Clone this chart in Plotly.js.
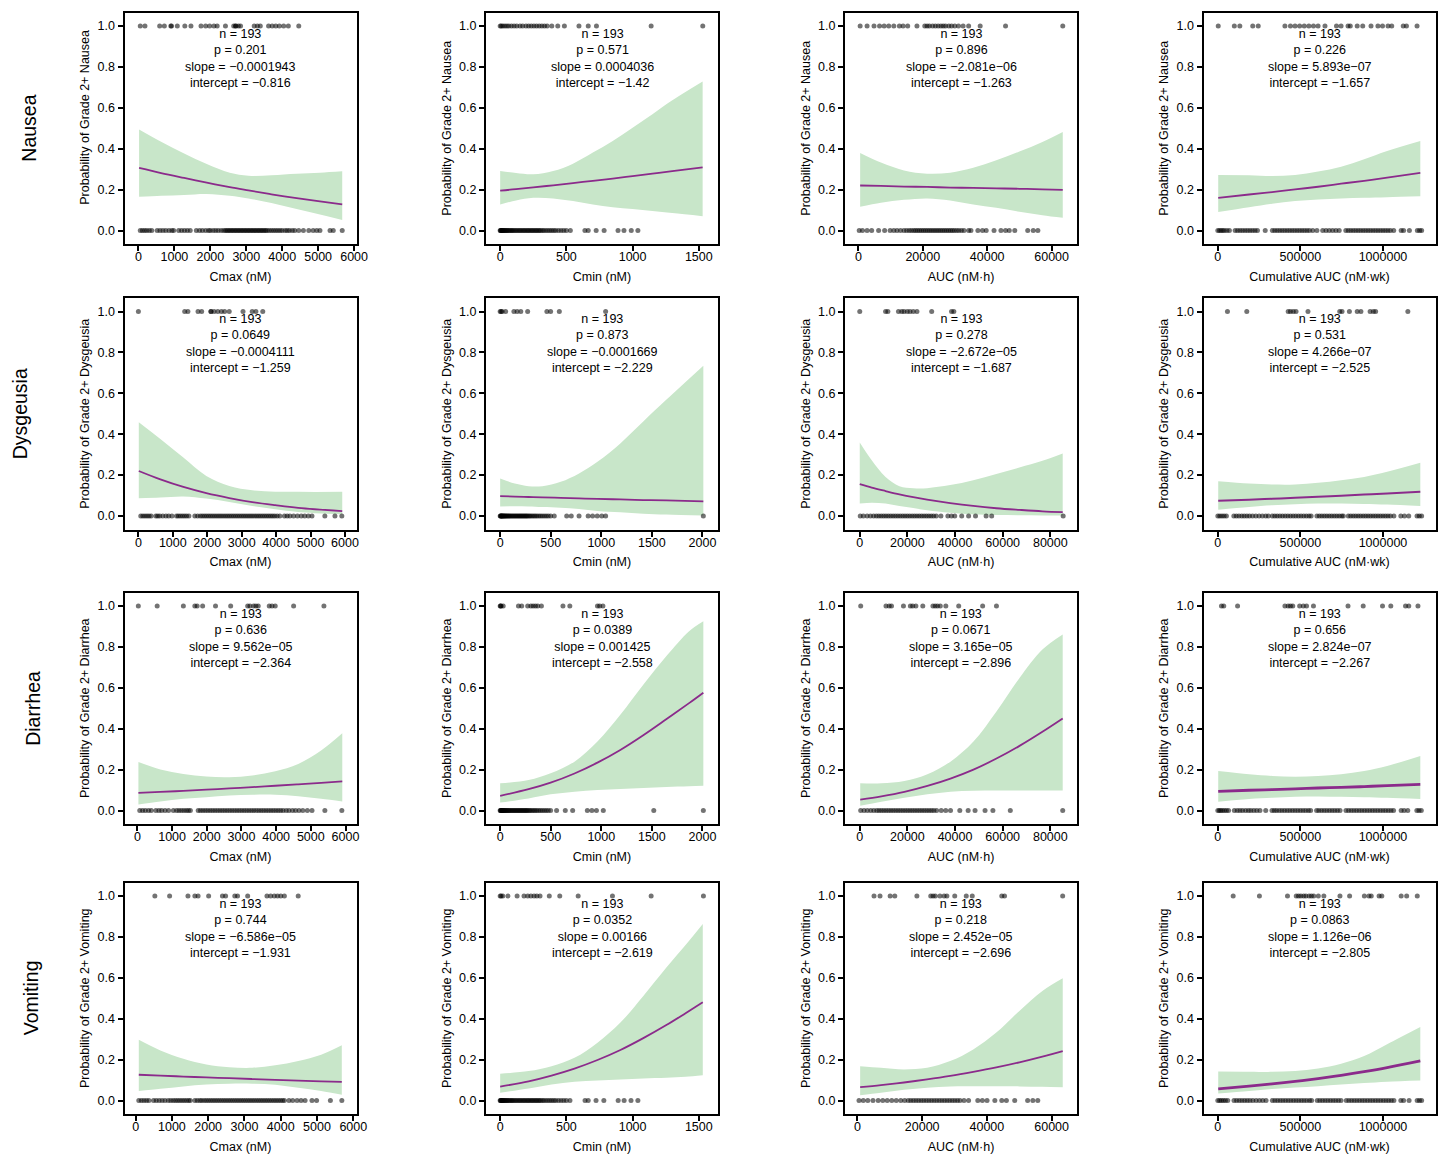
<!DOCTYPE html>
<html><head><meta charset="utf-8">
<script src="https://cdn.plot.ly/plotly-3.0.1.min.js"></script>
<style>html,body{margin:0;padding:0;background:#fff;}#chart{width:1445px;height:1154px;}</style>
</head><body><div id="chart"></div>
<script>
// ---------- categories and labels ----------
const rowNames = ['Nausea', 'Dysgeusia', 'Diarrhea', 'Vomiting'];
const xTitles = ['Cmax (nM)', 'Cmin (nM)', 'AUC (nM·h)', 'Cumulative AUC (nM·wk)'];
const nText = ['193','193','193','193','193','193','193','193','193','193','193','193','193','193','193','193'];
const pText = ['0.201','0.571','0.896','0.226','0.0649','0.873','0.278','0.531','0.636','0.0389','0.0671','0.656','0.744','0.0352','0.218','0.0863'];
const slopeText = ['−0.0001943','0.0004036','−2.081e−06','5.893e−07','−0.0004111','−0.0001669','−2.672e−05','4.266e−07','9.562e−05','0.001425','3.165e−05','2.824e−07','−6.586e−05','0.00166','2.452e−05','1.126e−06'];
const interceptText = ['−0.816','−1.42','−1.263','−1.657','−1.259','−2.229','−1.687','−2.525','−2.364','−2.558','−2.896','−2.267','−1.931','−2.619','−2.696','−2.805'];

// tick label sets
const cmaxTicks = [0, 1000, 2000, 3000, 4000, 5000, 6000];
const cminTicksA = [0, 500, 1000, 1500];
const cminTicksB = [0, 500, 1000, 1500, 2000];
const aucTicksA = [0, 20000, 40000, 60000];
const aucTicksB = [0, 20000, 40000, 60000, 80000];
const cumTicks = [0, 500000, 1000000];
const probTicks = [0, 0.2, 0.4, 0.6, 0.8, 1.0];

// ---------- Nausea ----------
const nausea_cmax_yes = [50,180,590,720,900,920,1080,1290,1460,1740,1870,1980,2100,2190,2420,2650,2700,2710,2780,2840,3220,3310,3390,3620,3720,3820,3920,4040,4170,4460];
const nausea_cmax_no = [50,110,170,230,300,370,520,600,680,760,850,930,980,1120,1200,1280,1360,1440,1610,1700,1780,1870,1950,2000,2080,2150,2220,2300,2370,2420,2460,2500,2540,2580,2620,2660,2700,2740,2780,2820,2860,2900,2940,2980,3020,3060,3100,3140,3180,3220,3260,3300,3340,3380,3420,3460,3500,3540,3580,3640,3700,3760,3820,3880,3940,4000,4080,4140,4200,4280,4350,4460,4590,4740,4860,4960,5050,5330,5420,5670];
const nausea_cmax_bx = [17,630,1270,1900,2540,3060,3700,4400,5050,5670];
const nausea_cmax_lo = [0.165,0.170,0.174,0.179,0.170,0.157,0.135,0.105,0.078,0.051];
const nausea_cmax_hi = [0.494,0.434,0.377,0.325,0.282,0.268,0.270,0.277,0.283,0.290];
const nausea_cmax_fit = [0.306,0.281,0.257,0.234,0.212,0.196,0.177,0.158,0.142,0.128];

const nausea_cmin_yes = [0,8,20,35,50,65,85,105,125,150,170,195,215,235,255,275,295,315,335,355,390,435,485,595,665,727,1140,1530];
const nausea_cmin_no = [0,3,6,10,14,18,22,27,32,38,44,50,57,64,72,80,88,96,105,115,125,135,145,155,165,175,185,195,205,215,225,235,245,255,265,275,285,295,305,318,330,345,360,375,390,405,420,440,460,480,500,530,640,665,725,785,890,935,990,1040];
const nausea_cmin_bx = [0,120,250,400,550,700,850,1000,1150,1300,1529];
const nausea_cmin_lo = [0.127,0.147,0.160,0.157,0.144,0.127,0.114,0.105,0.095,0.085,0.070];
const nausea_cmin_hi = [0.291,0.281,0.275,0.291,0.327,0.381,0.438,0.503,0.569,0.637,0.729];
const nausea_cmin_fit = [0.195,0.202,0.211,0.221,0.232,0.243,0.254,0.266,0.278,0.290,0.309];

const nausea_auc_yes = [560,2710,4860,6580,8010,9440,11020,12740,13890,15320,18190,20620,21340,22060,23060,23920,24780,25640,26350,27070,28080,28940,29940,31090,32520,34240,37820,45700,63460];
const nausea_auc_no = [270,1270,2710,4140,6290,8160,9870,11000,12020,13100,14170,15000,15800,16500,17200,17800,18400,19000,19600,20200,20800,21400,22000,22600,23200,23800,24400,25000,25600,26200,26800,27400,28000,28600,29200,29800,30500,31200,32000,32800,34240,34960,37110,38540,39690,42120,44270,45700,46850,48570,52580,54300,55730];
const nausea_auc_bx = [560,7010,14170,21340,28500,35670,42830,50000,57140,63460];
const nausea_auc_lo = [0.116,0.136,0.150,0.157,0.147,0.127,0.111,0.092,0.075,0.062];
const nausea_auc_hi = [0.379,0.332,0.294,0.278,0.283,0.307,0.343,0.386,0.433,0.482];
const nausea_auc_fit = [0.220,0.218,0.215,0.213,0.210,0.208,0.206,0.204,0.201,0.199];

const nausea_cum_yes = [2400,99900,133300,211300,244700,406300,439700,467600,495400,523300,551200,579000,607000,648800,718500,746400,788200,802100,843900,877400,927500,969300,997200,1030600,1052900,1122600,1142100,1206200];
const nausea_cum_no = [0,10000,20000,30000,40000,55000,70000,105000,120000,135000,150000,165000,180000,195000,210000,225000,240000,287000,330000,345000,360000,375000,390000,405000,420000,435000,450000,465000,480000,495000,510000,525000,540000,555000,575000,600000,635000,655000,675000,695000,715000,735000,775000,790000,805000,820000,835000,850000,865000,880000,895000,910000,925000,940000,955000,970000,985000,1000000,1015000,1030000,1045000,1065000,1110000,1125000,1160000,1208000,1222000,1234000];
const nausea_cum_bx = [2400,189200,328500,468000,607000,746600,886000,1025000,1226000];
const nausea_cum_lo = [0.090,0.114,0.131,0.144,0.152,0.157,0.160,0.163,0.168];
const nausea_cum_hi = [0.271,0.270,0.266,0.271,0.288,0.312,0.348,0.389,0.438];
const nausea_cum_fit = [0.160,0.176,0.188,0.201,0.214,0.229,0.243,0.259,0.282];

// ---------- Dysgeusia ----------
const dysgeusia_cmax_yes = [0,1345,1438,1732,1838,2105,2110,2198,2305,2412,2505,2638,3038,3305,3412,3612];
const dysgeusia_cmax_no = [69,130,190,250,310,371,507,560,620,707,800,880,974,1107,1160,1220,1280,1340,1400,1467,1640,1720,1800,1860,1920,1980,2040,2100,2160,2220,2280,2340,2400,2460,2520,2580,2640,2700,2760,2820,2880,2940,3000,3060,3120,3180,3240,3300,3360,3420,3480,3540,3600,3660,3720,3780,3840,3900,3960,4030,4108,4241,4320,4401,4508,4620,4730,4830,4935,5041,5415,5708,5908];
const dysgeusia_cmax_bx = [12,639,1306,1973,2640,3307,3974,4641,5920];
const dysgeusia_cmax_lo = [0.087,0.090,0.095,0.085,0.069,0.049,0.033,0.020,0.008];
const dysgeusia_cmax_hi = [0.458,0.376,0.286,0.196,0.147,0.126,0.119,0.118,0.118];
const dysgeusia_cmax_fit = [0.220,0.179,0.142,0.112,0.088,0.068,0.053,0.040,0.024];

const dysgeusia_cmin_yes = [0,9,20,54,136,168,204,272,462,499,585,1043];
const dysgeusia_cmin_no = [0,4,8,12,16,20,25,30,36,42,48,55,62,70,78,86,95,105,115,125,135,145,155,165,175,185,195,205,215,225,235,245,255,265,275,288,300,315,330,345,360,378,396,415,435,455,475,499,535,658,703,780,870,914,960,1005,1043,2009];
const dysgeusia_cmin_bx = [0,145,281,417,599,780,962,1188,1415,1642,2009];
const dysgeusia_cmin_lo = [0.047,0.048,0.047,0.044,0.040,0.034,0.025,0.018,0.011,0.007,0.002];
const dysgeusia_cmin_hi = [0.183,0.159,0.146,0.146,0.167,0.208,0.265,0.355,0.462,0.568,0.735];
const dysgeusia_cmin_fit = [0.097,0.095,0.093,0.091,0.089,0.086,0.084,0.081,0.078,0.076,0.072];

const dysgeusia_auc_yes = [0,10840,11800,16260,17620,18580,19940,21100,22460,24010,30200,38530,39500];
const dysgeusia_auc_no = [200,1500,3100,4500,5800,6970,8000,9000,10000,11000,12000,13000,14000,15000,16000,17000,18000,19000,20000,21000,22000,23000,24000,25000,26000,27000,28000,29000,30000,31000,32140,34080,36990,38500,39890,42800,45700,48600,53050,55380,85400];
const dysgeusia_auc_bx = [0,5030,10840,16650,22460,28270,37960,47640,57330,67010,76690,85200];
const dysgeusia_auc_lo = [0.061,0.065,0.061,0.049,0.039,0.028,0.016,0.008,0.005,0.004,0.003,0.003];
const dysgeusia_auc_hi = [0.360,0.273,0.191,0.146,0.136,0.136,0.151,0.175,0.205,0.237,0.270,0.306];
const dysgeusia_auc_fit = [0.156,0.139,0.122,0.106,0.092,0.080,0.063,0.049,0.038,0.030,0.023,0.019];

const dysgeusia_cum_yes = [58300,175300,426100,440000,456700,473500,545900,738200,752100,796700,844100,866400,922100,941600,955500,1150600];
const dysgeusia_cum_no = [0,12000,25000,38000,52000,97000,112000,128000,145000,160000,176000,192000,210000,230000,250000,270000,290000,306000,330000,345000,360000,376000,392000,408000,424000,440000,456000,472000,488000,504000,520000,536000,552000,565000,600000,615000,630000,645000,660000,675000,690000,705000,720000,735000,750000,760000,790000,805000,820000,835000,850000,865000,880000,895000,910000,925000,940000,955000,970000,985000,1000000,1015000,1030000,1045000,1066000,1108000,1130000,1156000,1206000,1220000,1234000];
const dysgeusia_cum_bx = [2400,189200,328500,468000,607000,746600,886000,1025000,1226000];
const dysgeusia_cum_lo = [0.031,0.044,0.052,0.057,0.061,0.061,0.059,0.056,0.049];
const dysgeusia_cum_hi = [0.170,0.159,0.154,0.154,0.162,0.175,0.191,0.216,0.260];
const dysgeusia_cum_fit = [0.074,0.080,0.084,0.089,0.094,0.099,0.105,0.110,0.119];

// ---------- Diarrhea ----------
const diarrhea_cmax_yes = [27,570,1325,1656,1722,1881,2252,2689,3179,3245,3351,3417,3484,3801,3881,3974,4504,5378];
const diarrhea_cmax_no = [68,150,230,320,401,533,620,700,798,900,1037,1130,1200,1270,1340,1410,1470,1527,1753,1820,1890,1960,2030,2100,2170,2240,2310,2380,2450,2520,2590,2660,2730,2800,2870,2940,3010,3080,3150,3220,3290,3360,3430,3500,3570,3640,3710,3780,3850,3920,3990,4060,4130,4200,4290,4372,4470,4560,4660,4769,4900,5034,5405,5894];
const diarrhea_cmax_bx = [29,663,1325,1987,2650,3312,3975,4637,5297,5907];
const diarrhea_cmax_lo = [0.029,0.044,0.057,0.065,0.073,0.077,0.077,0.070,0.057,0.044];
const diarrhea_cmax_hi = [0.237,0.201,0.179,0.166,0.163,0.171,0.192,0.228,0.294,0.378];
const diarrhea_cmax_fit = [0.086,0.091,0.096,0.102,0.108,0.114,0.121,0.128,0.135,0.142];

const diarrhea_cmin_yes = [0,5,9,30,181,213,272,304,326,349,372,408,621,689,962,984,1016];
const diarrhea_cmin_no = [0,4,8,12,16,20,25,30,36,42,48,55,62,70,78,86,95,105,115,125,135,145,155,165,175,185,195,205,215,225,235,245,255,265,275,288,300,315,330,345,360,378,396,415,435,455,475,499,558,644,717,862,907,952,1020,1519,2009];
const diarrhea_cmin_bx = [0,281,499,735,962,1188,1415,1642,1868,2009];
const diarrhea_cmin_lo = [0.039,0.059,0.079,0.092,0.100,0.105,0.110,0.115,0.119,0.121];
const diarrhea_cmin_hi = [0.133,0.149,0.182,0.239,0.337,0.468,0.615,0.754,0.877,0.926];
const diarrhea_cmin_fit = [0.072,0.104,0.136,0.181,0.234,0.296,0.368,0.446,0.525,0.576];

const diarrhea_auc_yes = [400,11010,12360,13330,18350,21250,22220,23570,26470,30720,31690,32650,33810,36130,41540,51590,57380];
const diarrhea_auc_no = [400,1800,3200,4600,5900,7140,8100,9100,10100,11100,12100,13100,14100,15100,16100,17100,18100,19100,20100,21100,22100,23100,24100,25100,26100,27100,28100,29100,30100,31100,32260,34200,36100,38100,42000,45500,48400,52600,55900,63200,85200];
const diarrhea_auc_bx = [200,9080,18740,28400,38070,47730,57390,67060,76680,85200];
const diarrhea_auc_lo = [0.023,0.043,0.062,0.079,0.092,0.097,0.098,0.098,0.098,0.098];
const diarrhea_auc_hi = [0.133,0.133,0.144,0.177,0.239,0.337,0.484,0.648,0.787,0.861];
const diarrhea_auc_fit = [0.053,0.069,0.091,0.120,0.156,0.200,0.254,0.316,0.385,0.450];

const diarrhea_cum_yes = [22000,36000,119600,406300,425800,439700,453700,495400,517700,537300,579000,788200,880200,997200,1047400,1136500,1156100,1211800];
const diarrhea_cum_no = [0,9000,18000,28000,40000,52000,65000,100000,118000,134000,150000,168000,185000,200000,218000,236000,255000,290000,328000,342000,356000,372000,388000,404000,420000,436000,452000,468000,484000,500000,516000,532000,548000,562000,598000,612000,628000,644000,660000,676000,692000,708000,724000,740000,776000,792000,808000,824000,840000,856000,872000,888000,904000,920000,936000,952000,968000,984000,1000000,1016000,1032000,1048000,1064000,1110000,1128000,1150000,1205000,1218000,1232000];
const diarrhea_cum_bx = [2400,189200,328500,468000,607000,746600,886000,1025000,1226000];
const diarrhea_cum_lo = [0.043,0.056,0.062,0.067,0.069,0.067,0.065,0.062,0.056];
const diarrhea_cum_hi = [0.193,0.177,0.169,0.165,0.169,0.177,0.193,0.218,0.267];
const diarrhea_cum_fit = [0.094,0.099,0.102,0.106,0.110,0.113,0.117,0.122,0.128];

// ---------- Vomiting ----------
const vomiting_cmax_yes = [531,937,1443,1633,1722,2013,2393,2481,2734,2810,3089,3620,3722,3823,3911,4000,4101,4481];
const vomiting_cmax_no = [88,160,230,300,367,494,570,650,730,810,900,970,1038,1101,1160,1220,1280,1340,1400,1460,1506,1633,1700,1770,1823,1890,1950,2010,2070,2130,2190,2250,2310,2370,2430,2490,2550,2610,2670,2730,2790,2850,2910,2970,3030,3090,3150,3210,3270,3330,3390,3450,3510,3570,3630,3690,3750,3810,3870,3930,3990,4050,4101,4228,4330,4450,4560,4671,4861,4988,5368,5684];
const vomiting_cmax_bx = [88,684,1316,1950,2582,3215,3848,4482,5114,5683];
const vomiting_cmax_lo = [0.046,0.057,0.069,0.078,0.082,0.082,0.077,0.062,0.046,0.028];
const vomiting_cmax_hi = [0.297,0.245,0.204,0.176,0.163,0.160,0.172,0.193,0.224,0.270];
const vomiting_cmax_fit = [0.126,0.122,0.117,0.113,0.109,0.105,0.101,0.097,0.094,0.091];

const vomiting_cmin_yes = [0,7,20,59,128,180,208,232,256,277,301,371,450,589,848,1140,1535];
const vomiting_cmin_no = [0,3,6,10,14,18,22,27,32,38,44,50,57,64,72,80,88,96,105,115,125,135,145,155,165,175,185,195,205,215,225,235,245,255,265,275,285,295,305,318,330,345,360,375,390,405,420,440,460,480,500,527,641,665,724,783,891,936,988,1040];
const vomiting_cmin_bx = [0,215,388,561,735,908,1081,1255,1400,1530];
const vomiting_cmin_lo = [0.038,0.059,0.078,0.092,0.098,0.103,0.108,0.111,0.116,0.124];
const vomiting_cmin_hi = [0.131,0.144,0.168,0.209,0.283,0.381,0.511,0.650,0.760,0.863];
const vomiting_cmin_fit = [0.068,0.094,0.122,0.156,0.198,0.247,0.305,0.369,0.427,0.480];

const vomiting_auc_yes = [5120,6970,10100,11540,18370,22650,23360,24070,25500,26780,27640,30060,33630,35480,44600,45460,63420];
const vomiting_auc_no = [480,1800,3200,4800,6410,7830,9200,10600,12000,13400,14600,15700,16500,17300,18100,18900,19700,20500,21300,22100,22900,23700,24500,25300,26100,26900,27700,28500,29300,30100,30900,31700,32920,34340,37190,38600,40050,42460,44600,46030,48600,52590,54200,55730];
const vomiting_auc_bx = [840,7260,14390,21520,28650,35780,42910,50050,57150,63440];
const vomiting_auc_lo = [0.026,0.038,0.052,0.062,0.069,0.070,0.070,0.069,0.067,0.065];
const vomiting_auc_hi = [0.168,0.160,0.152,0.160,0.193,0.250,0.332,0.438,0.536,0.598];
const vomiting_auc_fit = [0.065,0.075,0.088,0.103,0.120,0.140,0.162,0.187,0.215,0.242];

const vomiting_cum_yes = [92900,251800,421800,474800,488700,502600,519400,533300,552800,566700,580700,608500,642000,739500,798000,887200,915000,929000,976400,993100,1110100,1143500,1207600];
const vomiting_cum_no = [0,11000,22000,34000,46000,60000,98000,114000,130000,146000,162000,178000,194000,212000,232000,252000,272000,292000,330000,346000,362000,378000,394000,410000,426000,442000,458000,474000,490000,506000,522000,538000,555000,568000,602000,618000,634000,650000,666000,682000,698000,714000,730000,746000,778000,794000,810000,826000,842000,858000,874000,890000,906000,922000,938000,954000,970000,986000,1002000,1018000,1034000,1050000,1066000,1108000,1125000,1158000,1207000,1221000,1234000];
const vomiting_cum_bx = [2400,189200,328500,468000,607000,746600,886000,1025000,1226000];
const vomiting_cum_lo = [0.034,0.046,0.056,0.063,0.070,0.078,0.085,0.092,0.098];
const vomiting_cum_hi = [0.142,0.141,0.140,0.144,0.157,0.180,0.217,0.275,0.359];
const vomiting_cum_fit = [0.057,0.070,0.081,0.093,0.107,0.123,0.141,0.161,0.194];

// ---------- assemble ----------
const panels = [
  [nausea_cmax_yes, nausea_cmax_no, nausea_cmax_bx, nausea_cmax_lo, nausea_cmax_hi, nausea_cmax_fit],
  [nausea_cmin_yes, nausea_cmin_no, nausea_cmin_bx, nausea_cmin_lo, nausea_cmin_hi, nausea_cmin_fit],
  [nausea_auc_yes, nausea_auc_no, nausea_auc_bx, nausea_auc_lo, nausea_auc_hi, nausea_auc_fit],
  [nausea_cum_yes, nausea_cum_no, nausea_cum_bx, nausea_cum_lo, nausea_cum_hi, nausea_cum_fit],
  [dysgeusia_cmax_yes, dysgeusia_cmax_no, dysgeusia_cmax_bx, dysgeusia_cmax_lo, dysgeusia_cmax_hi, dysgeusia_cmax_fit],
  [dysgeusia_cmin_yes, dysgeusia_cmin_no, dysgeusia_cmin_bx, dysgeusia_cmin_lo, dysgeusia_cmin_hi, dysgeusia_cmin_fit],
  [dysgeusia_auc_yes, dysgeusia_auc_no, dysgeusia_auc_bx, dysgeusia_auc_lo, dysgeusia_auc_hi, dysgeusia_auc_fit],
  [dysgeusia_cum_yes, dysgeusia_cum_no, dysgeusia_cum_bx, dysgeusia_cum_lo, dysgeusia_cum_hi, dysgeusia_cum_fit],
  [diarrhea_cmax_yes, diarrhea_cmax_no, diarrhea_cmax_bx, diarrhea_cmax_lo, diarrhea_cmax_hi, diarrhea_cmax_fit],
  [diarrhea_cmin_yes, diarrhea_cmin_no, diarrhea_cmin_bx, diarrhea_cmin_lo, diarrhea_cmin_hi, diarrhea_cmin_fit],
  [diarrhea_auc_yes, diarrhea_auc_no, diarrhea_auc_bx, diarrhea_auc_lo, diarrhea_auc_hi, diarrhea_auc_fit],
  [diarrhea_cum_yes, diarrhea_cum_no, diarrhea_cum_bx, diarrhea_cum_lo, diarrhea_cum_hi, diarrhea_cum_fit],
  [vomiting_cmax_yes, vomiting_cmax_no, vomiting_cmax_bx, vomiting_cmax_lo, vomiting_cmax_hi, vomiting_cmax_fit],
  [vomiting_cmin_yes, vomiting_cmin_no, vomiting_cmin_bx, vomiting_cmin_lo, vomiting_cmin_hi, vomiting_cmin_fit],
  [vomiting_auc_yes, vomiting_auc_no, vomiting_auc_bx, vomiting_auc_lo, vomiting_auc_hi, vomiting_auc_fit],
  [vomiting_cum_yes, vomiting_cum_no, vomiting_cum_bx, vomiting_cum_lo, vomiting_cum_hi, vomiting_cum_fit]
];
const panelTicks = [
  cmaxTicks, cminTicksA, aucTicksA, cumTicks,
  cmaxTicks, cminTicksB, aucTicksB, cumTicks,
  cmaxTicks, cminTicksB, aucTicksB, cumTicks,
  cmaxTicks, cminTicksA, aucTicksA, cumTicks
];
const xRanges = [
  [-389, 6067], [-107, 1645], [-4143, 67882], [-86700, 1318000],
  [-403, 6334], [-140, 2154], [-6192, 91200], [-86700, 1318000],
  [-372, 6317], [-140, 2154], [-6192, 91200], [-86700, 1318000],
  [-306, 6088], [-107, 1645], [-3845, 67845], [-86700, 1318000]
];

// ---------- layout geometry (px) ----------
const W = 1445, H = 1154;
const colLeft = [124.5, 486, 845, 1203.5];
const rowTop = [12.5, 298, 592.5, 882.5];
const panelW = 232, panelH = 231.5;
const rowLabelX = [29.4, 19.5, 33.6, 31];
const fitWidths = [1.8,1.8,1.8,1.8, 1.8,1.8,1.8,2.0, 1.8,1.8,1.8,2.8, 1.8,1.8,1.8,2.8];

const FONT = 'Liberation Sans, Arial, Helvetica, sans-serif';
const bandColor = '#c8e6c9';
const lineColor = '#8b2a8b';
const pointColor = 'rgba(0,0,0,0.55)';

const traces = [];
const layout = {
  width: W, height: H, autosize: false,
  margin: {l: 0, r: 0, t: 0, b: 0, pad: 0},
  paper_bgcolor: '#fff', plot_bgcolor: '#fff',
  showlegend: false,
  font: {family: FONT, size: 12.5, color: '#000'},
  annotations: []
};

for (let r = 0; r < 4; r++) {
  for (let c = 0; c < 4; c++) {
    const i = r * 4 + c;
    const xa = i === 0 ? 'x' : 'x' + (i + 1);
    const ya = i === 0 ? 'y' : 'y' + (i + 1);
    const xKey = i === 0 ? 'xaxis' : 'xaxis' + (i + 1);
    const yKey = i === 0 ? 'yaxis' : 'yaxis' + (i + 1);
    const [yes, no, bx, lo, hi, fit] = panels[i];

    traces.push({x: bx, y: lo, xaxis: xa, yaxis: ya, mode: 'lines', type: 'scatter',
      line: {width: 0, shape: 'spline', color: bandColor}, hoverinfo: 'skip'});
    traces.push({x: bx, y: hi, xaxis: xa, yaxis: ya, mode: 'lines', type: 'scatter',
      fill: 'tonexty', fillcolor: bandColor,
      line: {width: 0, shape: 'spline', color: bandColor}, hoverinfo: 'skip'});
    traces.push({x: yes.concat(no), y: yes.map(() => 1).concat(no.map(() => 0)),
      xaxis: xa, yaxis: ya, mode: 'markers', type: 'scatter',
      marker: {size: 5, color: pointColor, line: {width: 0}}, hoverinfo: 'skip'});
    traces.push({x: bx, y: fit, xaxis: xa, yaxis: ya, mode: 'lines', type: 'scatter',
      line: {width: fitWidths[i], shape: 'spline', color: lineColor}, hoverinfo: 'skip'});

    const x0 = colLeft[c] / W, x1 = (colLeft[c] + panelW) / W;
    const y1 = 1 - rowTop[r] / H, y0 = 1 - (rowTop[r] + panelH) / H;
    const common = {
      showline: true, mirror: true, linecolor: '#000', linewidth: 2,
      ticks: 'outside', ticklen: 5, tickwidth: 2, tickcolor: '#000',
      showgrid: false, zeroline: false, fixedrange: true,
      tickfont: {family: FONT, size: 12.5, color: '#000'}
    };
    const yTitleText = 'Probability of Grade 2+ ' + rowNames[r];
    layout[xKey] = Object.assign({}, common, {
      domain: [x0, x1], anchor: ya, range: xRanges[i],
      tickmode: 'array', tickvals: panelTicks[i], ticktext: panelTicks[i].map(v => String(v)),
      ticklabelstandoff: -5,
      title: {text: xTitles[c], font: {family: FONT, size: 12.5, color: '#000'}, standoff: 9}
    });
    layout[yKey] = Object.assign({}, common, {
      domain: [y0, y1], anchor: xa, range: [-0.066, 1.066],
      tickmode: 'array', tickvals: probTicks, ticktext: probTicks.map(v => v.toFixed(1)),
      title: {text: i === 0 ? '' : yTitleText, font: {family: FONT, size: 12.5, color: '#000'}, standoff: 5}
    });
    if (i === 0) {
      // first panel's y title sits a little higher in the reference
      layout.annotations.push({
        xref: 'paper', yref: 'paper', x: 84.8 / W, y: 1 - 117 / H,
        xanchor: 'center', yanchor: 'middle', showarrow: false, textangle: -90,
        font: {family: FONT, size: 12.5, color: '#000'}, text: yTitleText
      });
    }

    layout.annotations.push({
      xref: 'paper', yref: 'paper',
      x: (colLeft[c] + panelW / 2) / W, y: 1 - (rowTop[r] + 46) / H,
      xanchor: 'center', yanchor: 'middle', align: 'center', showarrow: false,
      font: {family: FONT, size: 12.5, color: '#000'},
      text: 'n = ' + nText[i] + '<br>p = ' + pText[i] + '<br>slope = ' + slopeText[i] + '<br>intercept = ' + interceptText[i]
    });
  }
  layout.annotations.push({
    xref: 'paper', yref: 'paper',
    x: rowLabelX[r] / W, y: 1 - (rowTop[r] + panelH / 2) / H,
    xanchor: 'center', yanchor: 'middle', showarrow: false, textangle: -90,
    font: {family: FONT, size: 19.5, color: '#000'},
    text: rowNames[r]
  });
}

Plotly.newPlot('chart', traces, layout, {staticPlot: true, displayModeBar: false});
</script>
</body></html>
